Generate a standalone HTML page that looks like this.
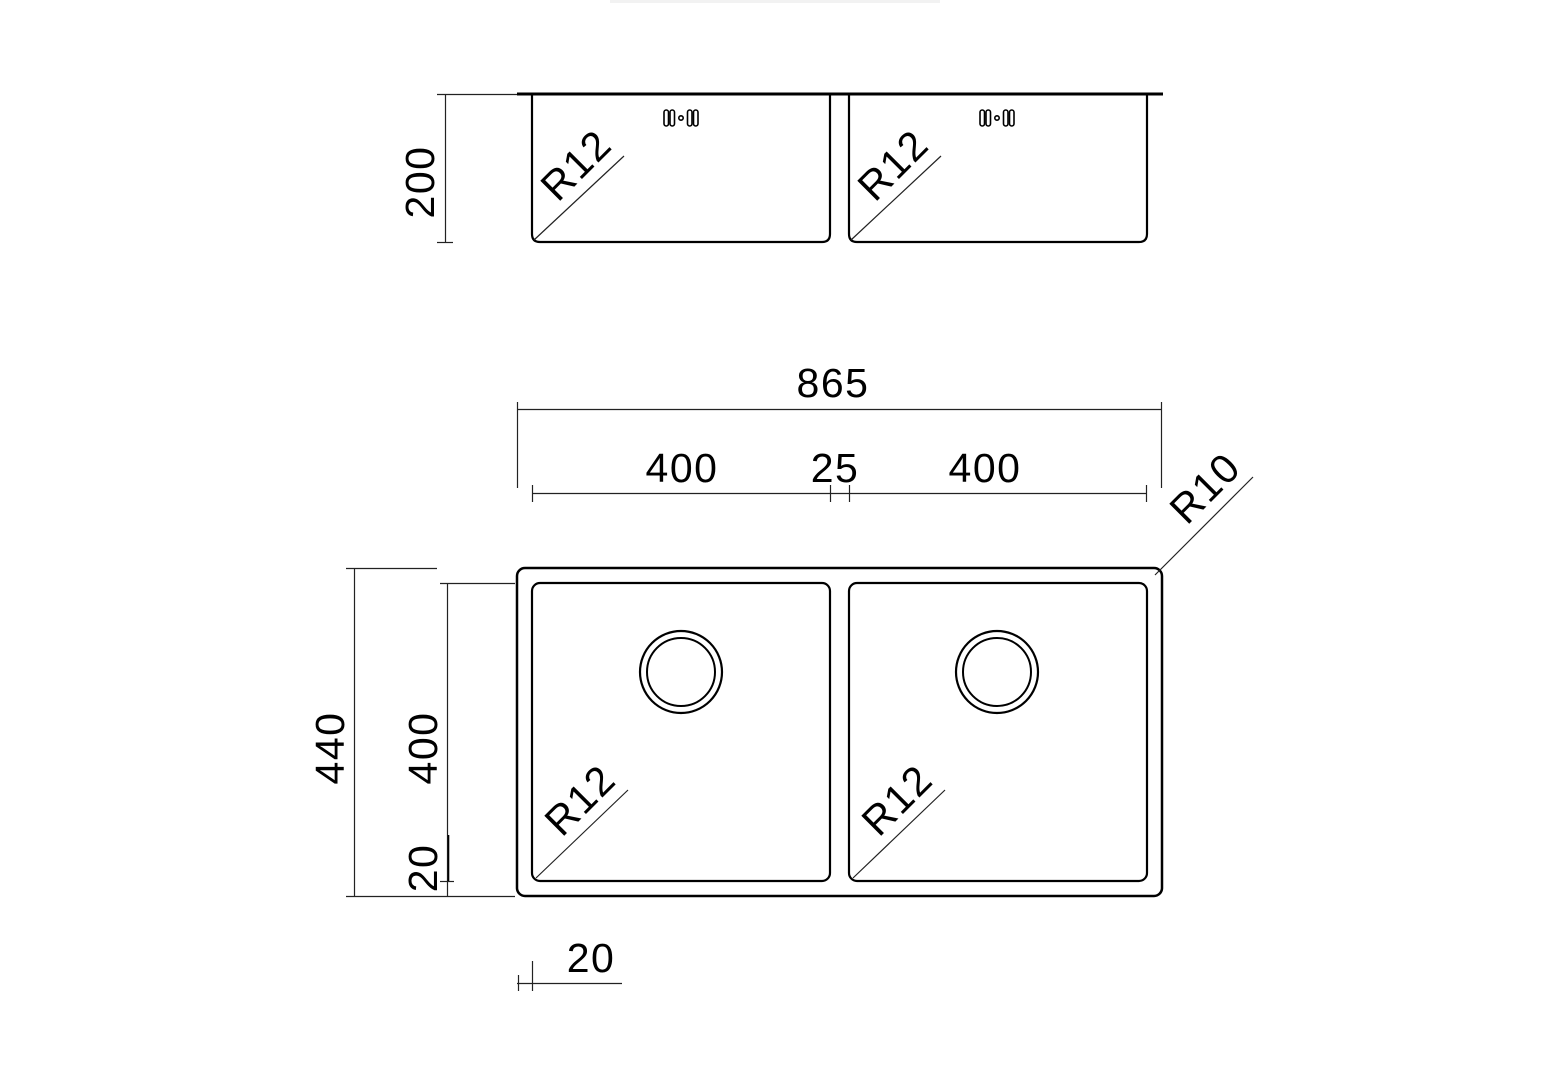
<!DOCTYPE html>
<html><head><meta charset="utf-8"><style>
html,body{margin:0;padding:0;background:#fff;}
svg{display:block}
text{font-family:"Liberation Sans",sans-serif;fill:#000}
</style></head><body>
<svg width="1543" height="1069" viewBox="0 0 1543 1069" xmlns="http://www.w3.org/2000/svg">
<rect x="610" y="0" width="330" height="3" fill="#f2f2f2"/>
<g fill="none" stroke="#000">
<line x1="517" y1="94" x2="1163" y2="94" stroke-width="3"/>
<path d="M532 94 V234 Q532 242 540 242 H822 Q830 242 830 234 V94" stroke-width="2.2"/>
<path d="M849 94 V234 Q849 242 857 242 H1139 Q1147 242 1147 234 V94" stroke-width="2.2"/>
<g stroke-width="1.2" stroke="#222">
<line x1="437" y1="94.5" x2="517" y2="94.5"/>
<line x1="445.5" y1="94" x2="445.5" y2="242"/>
<line x1="437" y1="242.5" x2="453" y2="242.5"/>
<line x1="534" y1="240" x2="624" y2="156"/>
<line x1="851" y1="240" x2="941" y2="156"/>
</g>
<g stroke-width="1.6">
<rect x="664" y="110" width="4.5" height="16" rx="2.2"/><rect x="670" y="110" width="4.5" height="16" rx="2.2"/>
<circle cx="681" cy="118" r="2.2"/>
<rect x="687.5" y="110" width="4.5" height="16" rx="2.2"/><rect x="693.5" y="110" width="4.5" height="16" rx="2.2"/>
<rect x="980" y="110" width="4.5" height="16" rx="2.2"/><rect x="986" y="110" width="4.5" height="16" rx="2.2"/>
<circle cx="997" cy="118" r="2.2"/>
<rect x="1003.5" y="110" width="4.5" height="16" rx="2.2"/><rect x="1009.5" y="110" width="4.5" height="16" rx="2.2"/>
</g>
<rect x="517" y="568" width="645" height="328" rx="8" stroke-width="2.5"/>
<rect x="532" y="583" width="298" height="298" rx="8" stroke-width="2.2"/>
<rect x="849" y="583" width="298" height="298" rx="8" stroke-width="2.2"/>
<circle cx="681" cy="672" r="41" stroke-width="2.2"/>
<circle cx="681" cy="672" r="34" stroke-width="2"/>
<circle cx="997" cy="672" r="41" stroke-width="2.2"/>
<circle cx="997" cy="672" r="34" stroke-width="2"/>
<g stroke-width="1.2" stroke="#222">
<line x1="536" y1="878" x2="628" y2="790"/>
<line x1="853" y1="878" x2="945" y2="790"/>
<line x1="1155" y1="575" x2="1253" y2="477"/>
<line x1="517" y1="409.5" x2="1162" y2="409.5"/>
<line x1="517.5" y1="402" x2="517.5" y2="488"/>
<line x1="1161.5" y1="402" x2="1161.5" y2="488"/>
<line x1="532" y1="493.5" x2="1147" y2="493.5"/>
<line x1="532.5" y1="485" x2="532.5" y2="502"/>
<line x1="830.5" y1="485" x2="830.5" y2="502"/>
<line x1="849.5" y1="485" x2="849.5" y2="502"/>
<line x1="1146.5" y1="485" x2="1146.5" y2="502"/>
<line x1="354.5" y1="568" x2="354.5" y2="896"/>
<line x1="346" y1="568.5" x2="437" y2="568.5"/>
<line x1="346" y1="896.5" x2="515" y2="896.5"/>
<line x1="447.5" y1="583" x2="447.5" y2="896"/>
<line x1="440" y1="583.5" x2="515" y2="583.5"/>
<line x1="440" y1="881.5" x2="454" y2="881.5"/>
<line x1="517" y1="983.5" x2="622" y2="983.5"/>
<line x1="518.5" y1="975" x2="518.5" y2="991"/>
<line x1="532.5" y1="961" x2="532.5" y2="991"/>
</g>
<line x1="448.5" y1="835" x2="448.5" y2="881" stroke-width="1.6"/>
</g>
<g font-size="41" letter-spacing="1.5">
<text x="833" y="397" text-anchor="middle">865</text>
<text x="682" y="482" text-anchor="middle">400</text>
<text x="835" y="482" text-anchor="middle">25</text>
<text x="985" y="482" text-anchor="middle">400</text>
<text x="591" y="972" text-anchor="middle">20</text>
<text transform="translate(434,182) rotate(-90)" text-anchor="middle">200</text>
<text transform="translate(344,748) rotate(-90)" text-anchor="middle">440</text>
<text transform="translate(437,748) rotate(-90)" text-anchor="middle">400</text>
<text transform="translate(437,868) rotate(-90)" text-anchor="middle">20</text>
<text transform="translate(586,175) rotate(-45)" text-anchor="middle">R12</text>
<text transform="translate(903,175) rotate(-45)" text-anchor="middle">R12</text>
<text transform="translate(590,810) rotate(-45)" text-anchor="middle">R12</text>
<text transform="translate(907,810) rotate(-45)" text-anchor="middle">R12</text>
<text transform="translate(1215,498) rotate(-45)" text-anchor="middle">R10</text>
</g>
</svg>
</body></html>
